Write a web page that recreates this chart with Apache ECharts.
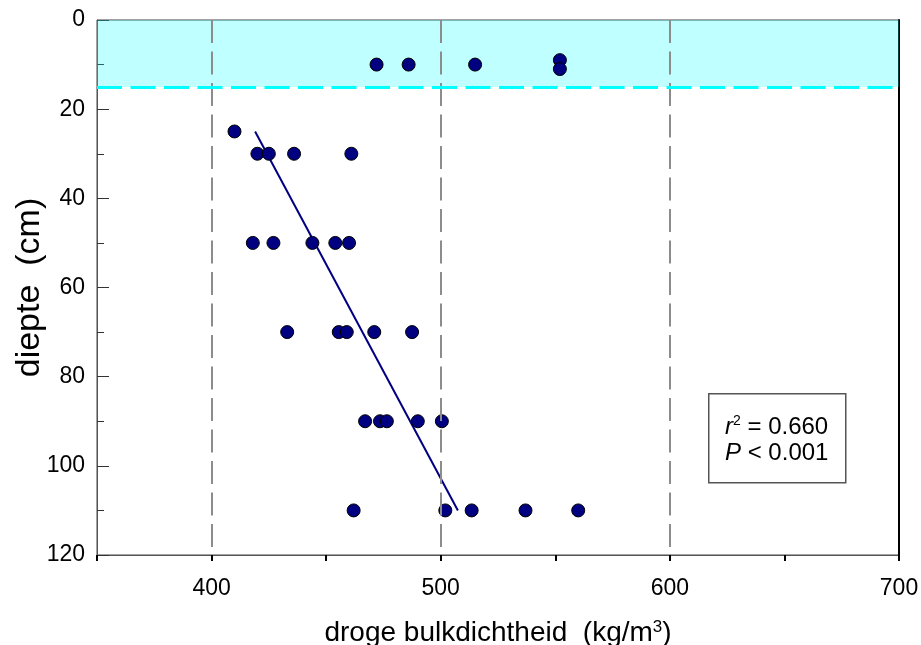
<!DOCTYPE html>
<html>
<head>
<meta charset="utf-8">
<script src="https://cdn.jsdelivr.net/npm/echarts@6/dist/echarts.min.js"></script>
<style>
html,body{margin:0;padding:0;background:#fff;}
#chart{width:921px;height:645px;}
</style>
</head>
<body>
<div id="chart"></div>
<script>
// ---- data ----
const density = [472, 486, 515, 552, 552, 410, 420, 425, 436, 461, 418, 427, 444, 454, 460, 433, 455.5, 459, 471, 487.5, 467, 473.5, 476.5, 490, 500.5, 462, 502, 513.5, 537, 560];
const depth   = [10, 10, 10, 9, 11, 25, 30, 30, 30, 30, 50, 50, 50, 50, 50, 70, 70, 70, 70, 70, 90, 90, 90, 90, 90, 110, 110, 110, 110, 110];
const fitDensity = [419, 507.5];
const fitDepth = [25, 110];
const xTickLabels = [400, 500, 600, 700];
const gridValues = [400, 500, 600];
const bandDepth = [0, 15];

const points = density.map((d, i) => [d, depth[i]]);
const fitLine = fitDensity.map((d, i) => [d, fitDepth[i]]);

const FONT = 'Liberation Sans, Arial, sans-serif';
const chart = echarts.init(document.getElementById('chart'));
// main plot box (x 350..700), second box for major x ticks starting at 400
const L = 97, R = 22, W = 921 - L - R;
const X0 = 350, X1 = 700, XMAJ0 = xTickLabels[0];
const leftMajor = L + (XMAJ0 - X0) / (X1 - X0) * W;
const base = { top: 20, right: R, bottom: 90, containLabel: false, outerBoundsMode: 'none' };
const option = {
  animation: false,
  backgroundColor: '#fff',
  grid: [
    Object.assign({ left: L, show: true, borderColor: '#444', borderWidth: 1 }, base),
    Object.assign({ left: leftMajor, show: false }, base)
  ],
  xAxis: [{
    type: 'value', min: X0, max: X1, interval: 50, gridIndex: 0,
    axisLine: { show: true, onZero: false, lineStyle: { color: '#555', width: 1 } },
    axisTick: { show: true, inside: false, length: 6, lineStyle: { color: '#000', width: 2 } },
    axisLabel: { show: false },
    splitLine: { show: false },
    name: 'droge bulkdichtheid  (kg/m{s|3})',
    nameLocation: 'middle', nameGap: 64, nameMoveOverlap: false,
    nameTextStyle: { fontSize: 28, fontFamily: FONT, color: '#000',
      rich: { s: { fontSize: 17, fontFamily: FONT, verticalAlign: 'top', padding: [0, 0, 12, 0] } } }
  }, {
    type: 'value', min: XMAJ0, max: X1, interval: 100, gridIndex: 1,
    axisLine: { show: false },
    axisTick: { show: true, inside: false, length: 11, lineStyle: { color: '#000', width: 2 } },
    axisLabel: { show: true, margin: 22, fontSize: 23, fontFamily: FONT, color: '#000' },
    splitLine: { show: false }
  }],
  yAxis: [{
    type: 'value', min: 0, max: 120, interval: 20, inverse: true, gridIndex: 0,
    axisLine: { show: true, onZero: false, lineStyle: { color: '#555', width: 1 } },
    axisTick: { show: true, inside: true, length: 12, lineStyle: { color: '#333', width: 1 } },
    minorTick: { show: true, splitNumber: 2, length: 7, lineStyle: { color: '#333', width: 1 } },
    axisLabel: { margin: 12, fontSize: 23, fontFamily: FONT, color: '#000' },
    splitLine: { show: false },
    name: 'diepte  (cm)', nameLocation: 'middle', nameGap: 50, nameMoveOverlap: false,
    nameTextStyle: { fontSize: 34, fontFamily: FONT, color: '#000' }
  }, {
    type: 'value', min: 0, max: 120, inverse: true, position: 'right', gridIndex: 0,
    axisLine: { show: true, onZero: false, lineStyle: { color: '#000', width: 2 } },
    axisTick: { show: false }, axisLabel: { show: false }, splitLine: { show: false }
  }, {
    type: 'value', min: 0, max: 120, inverse: true, gridIndex: 1, show: false
  }],
  series: [{
    type: 'scatter', data: [], z: 1, silent: true, xAxisIndex: 0, yAxisIndex: 0,
    markLine: {
      silent: true, symbol: 'none', label: { show: false },
      lineStyle: { color: '#8c8c8c', width: 2, type: [23, 8.5] },
      data: gridValues.map(v => ({ xAxis: v }))
    }
  }, {
    type: 'line', data: fitLine, z: 2, showSymbol: false, symbol: 'none', xAxisIndex: 0, yAxisIndex: 0,
    lineStyle: { color: '#000080', width: 2 }
  }, {
    type: 'scatter', data: points, z: 3, symbol: 'circle', symbolSize: 13, xAxisIndex: 0, yAxisIndex: 0,
    itemStyle: { color: '#000080', borderColor: '#000', borderWidth: 1, opacity: 1 }
  }, {
    type: 'scatter', data: [], z: 10, silent: true, xAxisIndex: 0, yAxisIndex: 0,
    markArea: {
      silent: true, label: { show: false },
      itemStyle: { color: 'rgba(0,255,255,0.25)' },
      data: [[{ xAxis: X0, yAxis: bandDepth[0] }, { xAxis: X1, yAxis: bandDepth[1] }]]
    },
    markLine: {
      silent: true, symbol: 'none', label: { show: false },
      lineStyle: { color: '#00ffff', width: 3, type: [25, 8.5] },
      data: [{ yAxis: bandDepth[1] }]
    }
  }],
  graphic: [{
    type: 'rect', left: 708, top: 393, z: 20,
    shape: { width: 137, height: 89 },
    style: { fill: '#fff', stroke: '#555', lineWidth: 1.5 }
  }, {
    type: 'text', left: 725, top: 414, z: 21,
    style: {
      text: '{i|r}{s|2}{n| = 0.660}\n{i|P}{n| < 0.001}',
      font: '24px ' + FONT, fill: '#000', lineHeight: 26,
      rich: {
        i: { fontStyle: 'italic', fontSize: 24, fontFamily: FONT, lineHeight: 26 },
        s: { fontSize: 14, fontFamily: FONT, verticalAlign: 'top', lineHeight: 26, padding: [0, 0, 9, 0] },
        n: { fontSize: 24, fontFamily: FONT, lineHeight: 26 }
      }
    }
  }]
};
chart.setOption(option);
</script>
</body>
</html>
